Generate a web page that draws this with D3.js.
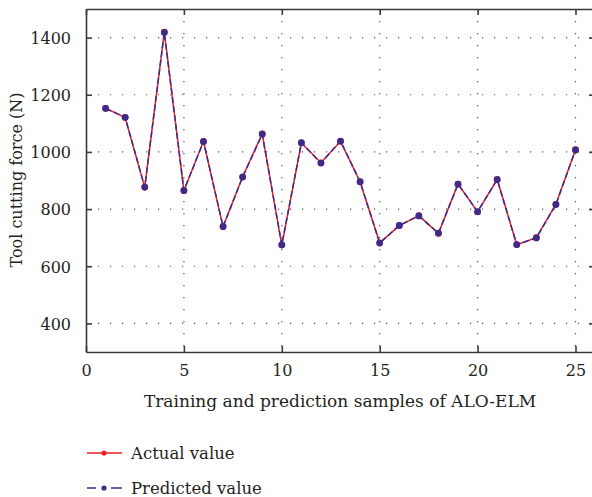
<!DOCTYPE html>
<html><head><meta charset="utf-8">
<script src="https://cdn.jsdelivr.net/npm/d3@7/dist/d3.min.js"></script>
<style>
body{margin:0;background:#fff;}
svg{display:block;font-family:"DejaVu Serif",serif;}
</style></head>
<body>
<svg id="chart" width="592" height="497"></svg>
<script>
const samples = d3.range(1, 26);
const actualValues = [1153,1120,876,1419,864,1037,738,913,1063,674,1031,962,1037,895,682,742,777,715,888,790,904,675,700,817,1008];
const predictedValues = [1152,1121,877,1418,865,1036,739,912,1062,675,1032,961,1038,896,681,743,776,716,887,791,903,676,699,816,1007];
const xTicks = [0,5,10,15,20,25];
const yTicks = [400,600,800,1000,1200,1400];
const seriesNames = ["Actual value","Predicted value"];
const xTitle = "Training and prediction samples of ALO-ELM";
const yTitle = "Tool cutting force (N)";

const svg = d3.select("#chart");
const L = 86, T = 9, B = 352;
const x = d3.scaleLinear().domain([0,26]).range([L, L + 26*19.58]);
const y = d3.scaleLinear().domain([300,1500]).range([B, T]);
const R = x(26);
const axisCol = "#3a3a3a";
const txtCol = "#231f20";

// grid
const g = svg.append("g");
g.selectAll(".gx").data(xTicks.filter(d=>d>0)).join("line")
  .attr("x1",d=>x(d)).attr("x2",d=>x(d)).attr("y1",T).attr("y2",B)
  .attr("stroke","#555").attr("stroke-width",1.2).attr("stroke-dasharray","1.2,10.8");
g.selectAll(".gy").data(yTicks).join("line")
  .attr("x1",L).attr("x2",R).attr("y1",d=>y(d)).attr("y2",d=>y(d))
  .attr("stroke","#555").attr("stroke-width",1.2).attr("stroke-dasharray","1.2,10.8");

// axes
const fs = 16;
const fmt = d3.format("d");
const ax = svg.append("g").attr("transform",`translate(0,${B})`)
  .call(d3.axisBottom(x).tickValues(xTicks).tickFormat(fmt).tickSizeInner(-6).tickSizeOuter(0).tickPadding(13));
const axT = svg.append("g").attr("transform",`translate(0,${T})`)
  .call(d3.axisTop(x).tickValues(xTicks).tickSizeInner(-6).tickSizeOuter(0).tickFormat(""));
const ay = svg.append("g").attr("transform",`translate(${L},0)`)
  .call(d3.axisLeft(y).tickValues(yTicks).tickFormat(fmt).tickSizeInner(-6).tickSizeOuter(0).tickPadding(15));
const ayR = svg.append("g").attr("transform",`translate(${R},0)`)
  .call(d3.axisRight(y).tickValues(yTicks).tickSizeInner(-6).tickSizeOuter(0).tickFormat(""));
[ax,axT,ay,ayR].forEach(a=>{
  a.select(".domain").attr("stroke",axisCol).attr("stroke-width",1.6);
  a.selectAll(".tick line").attr("stroke",axisCol).attr("stroke-width",1.6);
  a.selectAll("text").attr("font-size",fs).attr("fill",txtCol).attr("font-family","DejaVu Serif, serif");
});
ay.selectAll("text").attr("dy","0.36em");

// titles
svg.append("text").attr("x",340).attr("y",407).attr("text-anchor","middle")
  .attr("font-size",17).attr("fill",txtCol).text(xTitle);
svg.append("text").attr("transform",`translate(22,${180}) rotate(-90)`).attr("text-anchor","middle")
  .attr("font-size",16).attr("fill",txtCol).text(yTitle);

// series
const red = "#e8202a", blue = "#3d2a8a";
const line = d3.line().x((d,i)=>x(samples[i])).y(d=>y(d));
svg.append("path").datum(actualValues).attr("d",line).attr("fill","none")
  .attr("stroke",red).attr("stroke-width",1.5);
svg.append("g").selectAll("circle").data(actualValues).join("circle")
  .attr("cx",(d,i)=>x(samples[i])).attr("cy",d=>y(d)).attr("r",3.3).attr("fill",red);
svg.append("path").datum(predictedValues).attr("d",line).attr("fill","none")
  .attr("stroke",blue).attr("stroke-width",1.5).attr("stroke-dasharray","6,3");
svg.append("g").selectAll("circle").data(predictedValues).join("circle")
  .attr("cx",(d,i)=>x(samples[i])).attr("cy",d=>y(d)).attr("r",3.4).attr("fill",blue);

// legend
const leg = svg.append("g");
const ly = [453, 488];
leg.append("line").attr("x1",87).attr("x2",122).attr("y1",ly[0]).attr("y2",ly[0])
  .attr("stroke",red).attr("stroke-width",1.5);
leg.append("circle").attr("cx",104).attr("cy",ly[0]).attr("r",2.6).attr("fill",red);
leg.append("line").attr("x1",87).attr("x2",122).attr("y1",ly[1]).attr("y2",ly[1])
  .attr("stroke",blue).attr("stroke-width",1.5).attr("stroke-dasharray","9,15,11");
leg.append("circle").attr("cx",104).attr("cy",ly[1]).attr("r",2.6).attr("fill",blue);
seriesNames.forEach((n,i)=>{
  leg.append("text").attr("x",131).attr("y",ly[i]).attr("dy","0.36em")
    .attr("font-size",16.5).attr("fill",txtCol).text(n);
});
</script>
</body></html>
